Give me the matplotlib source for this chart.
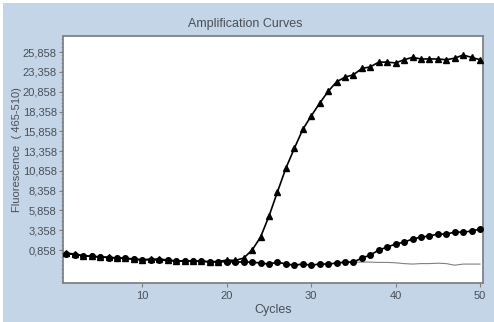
import numpy as np
import matplotlib
matplotlib.use('Agg')
import matplotlib.pyplot as plt
from matplotlib.patches import Rectangle
from matplotlib.ticker import MultipleLocator

plt.rcParams['font.family'] = ['Liberation Sans', 'DejaVu Sans']

cycles = np.arange(1, 51)

# sample 1 (triangles)
tri = [0.48, 0.35, 0.10, 0.10, -0.03, -0.03, -0.15, -0.15, -0.28, -0.40,
       -0.28, -0.28, -0.40, -0.53, -0.53, -0.53, -0.53, -0.66, -0.60, -0.40,
       -0.45, -0.15, 0.86, 2.50, 5.15, 8.20, 11.2, 13.7, 16.1, 17.8,
       19.4, 20.9, 22.1, 22.7, 23.0, 23.8, 24.0, 24.6, 24.6, 24.5,
       24.9, 25.2, 25.0, 25.0, 25.0, 24.9, 25.1, 25.5, 25.2, 24.9]

# sample 2 (circles)
circ = [0.40, 0.30, 0.15, 0.05, 0.00, -0.10, -0.15, -0.20, -0.30, -0.35,
        -0.35, -0.40, -0.45, -0.50, -0.50, -0.55, -0.55, -0.60, -0.60, -0.62,
        -0.64, -0.66, -0.66, -0.78, -0.91, -0.66, -0.91, -1.04, -0.91, -1.04,
        -0.91, -0.91, -0.78, -0.66, -0.66, -0.15, 0.23, 0.86, 1.24, 1.62,
        1.87, 2.25, 2.50, 2.63, 2.88, 2.88, 3.13, 3.13, 3.26, 3.51]

# negative control (thin gray line)
neg = [0.40, 0.30, 0.15, 0.05, 0.00, -0.10, -0.15, -0.20, -0.30, -0.35,
       -0.35, -0.40, -0.45, -0.50, -0.50, -0.55, -0.55, -0.60, -0.60, -0.62,
       -0.64, -0.66, -0.66, -0.78, -0.91, -0.66, -0.91, -1.04, -0.91, -1.04,
       -0.91, -0.91, -0.78, -0.70, -0.66, -0.66, -0.66, -0.70, -0.70, -0.75,
       -0.85, -0.91, -0.85, -0.85, -0.80, -0.85, -1.05, -0.91, -0.91, -0.91]

ytick_vals = [0.858, 3.358, 5.858, 8.358, 10.858, 13.358, 15.858, 18.358, 20.858, 23.358, 25.858]
ytick_labels = ['0,858', '3,358', '5,858', '8,358', '10,858', '13,358',
                '15,858', '18,358', '20,858', '23,358', '25,858']
xtick_vals = [10, 20, 30, 40, 50]

bg = '#c3d5e7'
txt = '#4a4f57'

fig = plt.figure(figsize=(4.94, 3.22), dpi=100, facecolor='white')
fig.patches.append(Rectangle((3 / 494, 0), 1, 1 - 3 / 322, transform=fig.transFigure,
                             facecolor=bg, edgecolor='none', zorder=-5))
ax = fig.add_axes([63 / 494, 1 - 283 / 322, 420 / 494, 247 / 322])
ax.set_zorder(2)
ax.set_facecolor('white')

ax.plot(cycles, neg, color='#808080', lw=0.8, zorder=2)
ax.plot(cycles, circ, color='black', lw=1.2, marker='o', ms=4, zorder=3)
ax.plot(cycles, tri, color='black', lw=1.2, marker='^', ms=4.5, zorder=4)

ax.set_xlim(0.6, 50.35)
ax.set_ylim(-3.3, 27.9)
ax.set_xticks(xtick_vals)
ax.set_yticks(ytick_vals)
ax.set_yticklabels(ytick_labels)
ax.yaxis.set_minor_locator(MultipleLocator(0.5))
ax.tick_params(axis='both', colors='#808080', labelcolor=txt, labelsize=8,
               length=3, width=0.8, direction='out')
ax.tick_params(axis='y', which='minor', length=1.5, width=0.6, colors='#909090')
ax.tick_params(axis='y', pad=1.5)
ax.tick_params(axis='x', pad=3)
for s in ax.spines.values():
    s.set_color('#7f8288')
    s.set_linewidth(1.3)

ax.set_xlabel('Cycles', fontsize=9, color=txt, labelpad=2)
ax.set_ylabel('Fluorescence  ( 465-510)', fontsize=8, color=txt)
ax.yaxis.set_label_coords(-0.098, 0.54)
fig.text(245 / 494, 1 - 24 / 322, 'Amplification Curves', ha='center', va='center',
         fontsize=9, color=txt, zorder=3)

fig.savefig('out.png', dpi=100, facecolor=fig.get_facecolor())
